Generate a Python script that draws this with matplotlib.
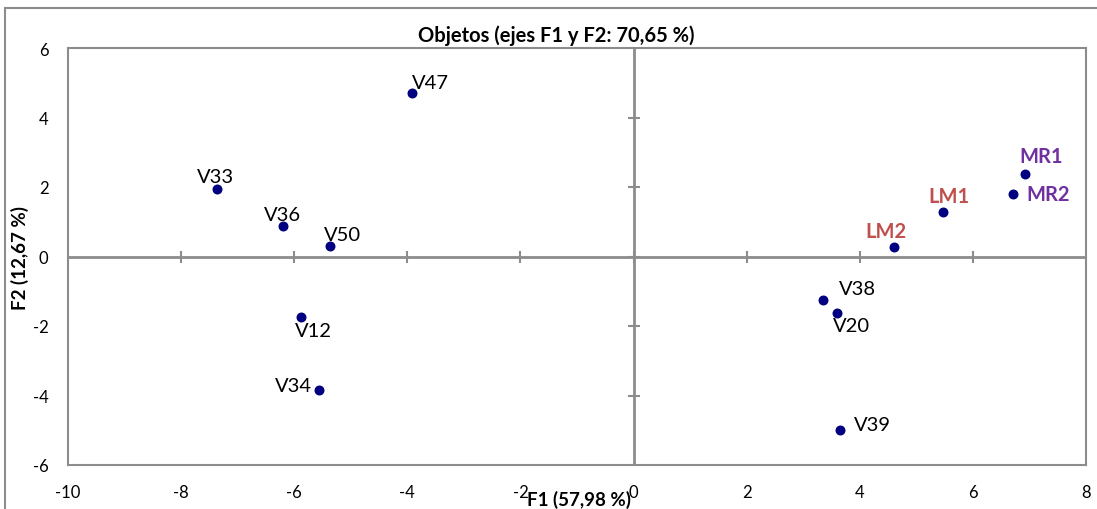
import matplotlib.pyplot as plt
from matplotlib.patches import Rectangle

plt.rcParams['font.family'] = ['Lato', 'DejaVu Sans']
plt.rcParams['axes.unicode_minus'] = False

# Observation coordinates (F1, F2)
names = ["V47", "V33", "V36", "V50", "V12", "V34", "V38", "V20", "V39",
         "LM2", "LM1", "MR2", "MR1"]
f1 = [-3.92, -7.37, -6.20, -5.37, -5.88, -5.56, 3.35, 3.60, 3.65,
      4.60, 5.47, 6.71, 6.92]
f2 = [4.70, 1.94, 0.88, 0.30, -1.74, -3.84, -1.25, -1.63, -4.99,
      0.27, 1.28, 1.80, 2.37]

xticks = [-10, -8, -6, -4, -2, 0, 2, 4, 6, 8]
yticks = [-6, -4, -2, 0, 2, 4, 6]

# label offsets in pixels and alignment
offsets = {
    "V47": (0, 2, 'left', 'bottom'),
    "V33": (-20, 4, 'left', 'bottom'),
    "V36": (-19, 3, 'left', 'bottom'),
    "V50": (-6, 3, 'left', 'bottom'),
    "V12": (-6, -5, 'left', 'top'),
    "V34": (-44, 4, 'left', 'center'),
    "V38": (16, 3, 'left', 'bottom'),
    "V20": (-4, -4, 'left', 'top'),
    "V39": (14, 5, 'left', 'center'),
    "LM2": (-28, 6, 'left', 'bottom'),
    "LM1": (-15, 6, 'left', 'bottom'),
    "MR2": (13, 0, 'left', 'center'),
    "MR1": (-6, 8, 'left', 'bottom'),
}
colors = {"LM1": "#C0504D", "LM2": "#C0504D", "MR1": "#7030A0", "MR2": "#7030A0"}

fig = plt.figure(figsize=(10.97, 5.10), dpi=100)
fig.patches.append(Rectangle((5 / 1097, -0.1), 1.2, 1.1 - 9 / 510,
                             transform=fig.transFigure, fill=False,
                             edgecolor='#8c8c8c', linewidth=1.5))
ax = fig.add_axes([68 / 1097, 1 - 466 / 510, (1086 - 68) / 1097, (466 - 49) / 510])

grey = '#8c8c8c'
for s in ax.spines.values():
    s.set_color(grey)
    s.set_linewidth(1.5)

ax.set_xlim(-10, 8)
ax.set_ylim(-6, 6)
ax.set_xticks(xticks)
ax.set_yticks(yticks)
ax.tick_params(length=0, labelsize=12, colors='black')
ax.tick_params(axis='x', pad=14)
ax.tick_params(axis='y', pad=14)

# centre axes with cross tick marks
ax.axhline(0, color=grey, linewidth=2, zorder=1)
ax.axvline(0, color=grey, linewidth=2, zorder=1)
ax.plot(xticks[1:-1], [0] * len(xticks[1:-1]), linestyle='none', marker='|',
        markersize=9, color=grey, markeredgewidth=1.5, zorder=1)
ax.plot([0] * len(yticks[1:-1]), yticks[1:-1], linestyle='none', marker='_',
        markersize=9, color=grey, markeredgewidth=1.5, zorder=1)

ax.scatter(f1, f2, s=38, color='#000080', zorder=3)

for n, x, y in zip(names, f1, f2):
    dx, dy, ha, va = offsets[n]
    c = colors.get(n, 'black')
    ax.annotate(n, (x, y), xytext=(dx * 0.72, dy * 0.72), textcoords='offset points',
                ha=ha, va=va, fontsize=14.5, color=c,
                fontweight='bold' if n in colors else 'normal')

fig.text(556 / 1097, 1 - 36 / 510, "Objetos (ejes F1 y F2: 70,65 %)",
         ha='center', va='center', fontsize=14.5, fontweight='bold')
fig.text(579 / 1097, 1 - 500 / 510, "F1 (57,98 %)",
         ha='center', va='center', fontsize=13.5, fontweight='bold')
fig.text(20 / 1097, 1 - 258 / 510, "F2 (12,67 %)", rotation=90,
         ha='center', va='center', fontsize=13.5, fontweight='bold')

fig.savefig('out.png', dpi=100)
